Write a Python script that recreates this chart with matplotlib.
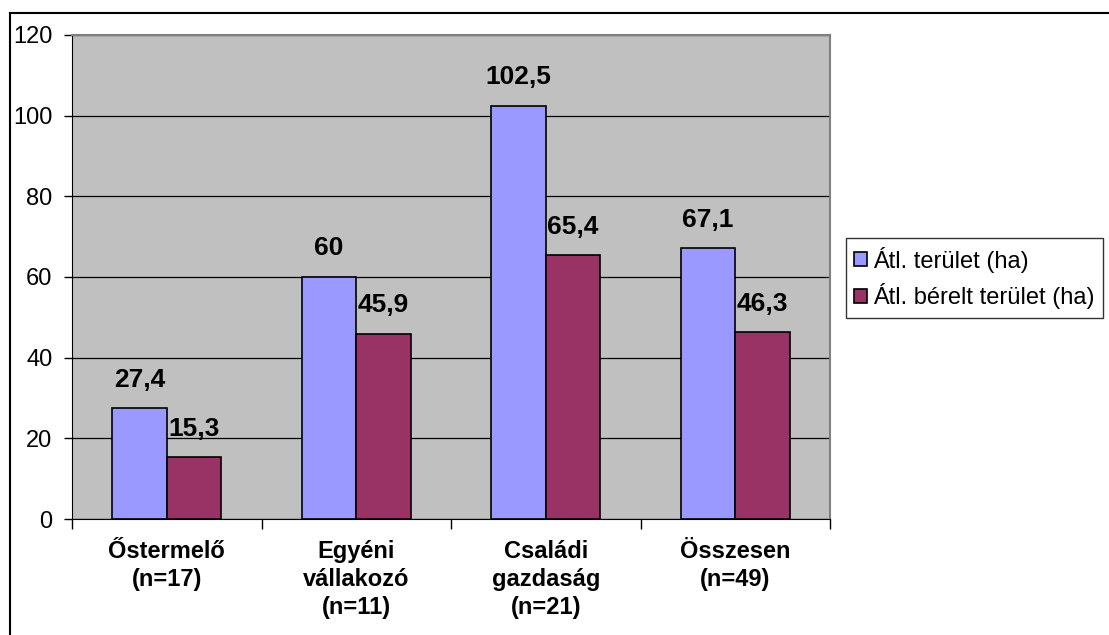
import numpy as np
import matplotlib
matplotlib.use("Agg")
import matplotlib.pyplot as plt
from matplotlib.lines import Line2D
from matplotlib.ticker import MultipleLocator, FixedLocator, NullFormatter

plt.rcParams["font.family"] = ["Liberation Sans", "DejaVu Sans"]

# data
categories = ["Őstermelő\n(n=17)", "Egyéni\nvállakozó\n(n=11)",
              "Családi\ngazdaság\n(n=21)", "Összesen\n(n=49)"]
area = [27.4, 60, 102.5, 67.1]
rented = [15.3, 45.9, 65.4, 46.3]
series_names = ["Átl. terület (ha)", "Átl. bérelt terület (ha)"]

fig = plt.figure(figsize=(11.09, 6.35), dpi=100)
ax = fig.add_axes([72/1109, 1-519/635, (830-72)/1109, (519-35)/635])
ax.set_facecolor("#C0C0C0")

x = np.arange(len(categories))
w = 0.288
b1 = ax.bar(x - w/2, area, w, color="#9999FF", edgecolor="black", lw=1.2,
            label=series_names[0], zorder=3)
b2 = ax.bar(x + w/2, rented, w, color="#993366", edgecolor="black", lw=1.2,
            label=series_names[1], zorder=3)

def fmt(v):
    s = ("%g" % v).replace(".", ",")
    return s

for bars, vals in [(b1, area), (b2, rented)]:
    for r, v in zip(bars, vals):
        ax.annotate(fmt(v), (r.get_x() + r.get_width()/2, v),
                    xytext=(0, 12), textcoords="offset points",
                    ha="center", va="bottom", fontsize=19, fontweight="bold")

ax.set_xlim(-0.5, 3.5)
ax.set_ylim(0, 120)
ax.yaxis.set_major_locator(MultipleLocator(20))
ax.grid(axis="y", color="black", lw=0.9, zorder=1)
ax.set_axisbelow(True)
ax.tick_params(axis="y", labelsize=17, direction="out", length=6, width=1,
               pad=8)

# category boundary ticks, labels at centres
ax.xaxis.set_major_locator(FixedLocator([-0.5, 0.5, 1.5, 2.5, 3.5]))
ax.xaxis.set_major_formatter(NullFormatter())
ax.xaxis.set_minor_locator(FixedLocator(x))
ax.set_xticklabels(categories, minor=True, fontsize=17, fontweight="bold",
                   linespacing=1.27)
ax.tick_params(axis="x", which="major", direction="out", length=7, width=1)
ax.tick_params(axis="x", which="minor", length=0, pad=15)

ax.spines["left"].set_color("black")
ax.spines["bottom"].set_color("black")
ax.spines["top"].set_color("#808080")
ax.spines["right"].set_color("#808080")
ax.spines["top"].set_linewidth(1.5)
ax.spines["right"].set_linewidth(1.5)

leg = ax.legend(loc="center left", bbox_to_anchor=(846/1109, 1-278/635),
                bbox_transform=fig.transFigure, frameon=True, fancybox=False,
                edgecolor="black", fontsize=17, handlelength=0.55,
                handleheight=0.55, handletextpad=0.25, borderpad=0.35,
                labelspacing=0.45, borderaxespad=0)
leg.get_frame().set_linewidth(1)

# outer chart frame
fig.add_artist(Line2D([10/1109, 10/1109], [0, 1-13/635], color="black",
                      lw=1.5, transform=fig.transFigure))
fig.add_artist(Line2D([10/1109, 1], [1-13/635, 1-13/635], color="black",
                      lw=1.5, transform=fig.transFigure))

fig.savefig("out.png", dpi=100)
